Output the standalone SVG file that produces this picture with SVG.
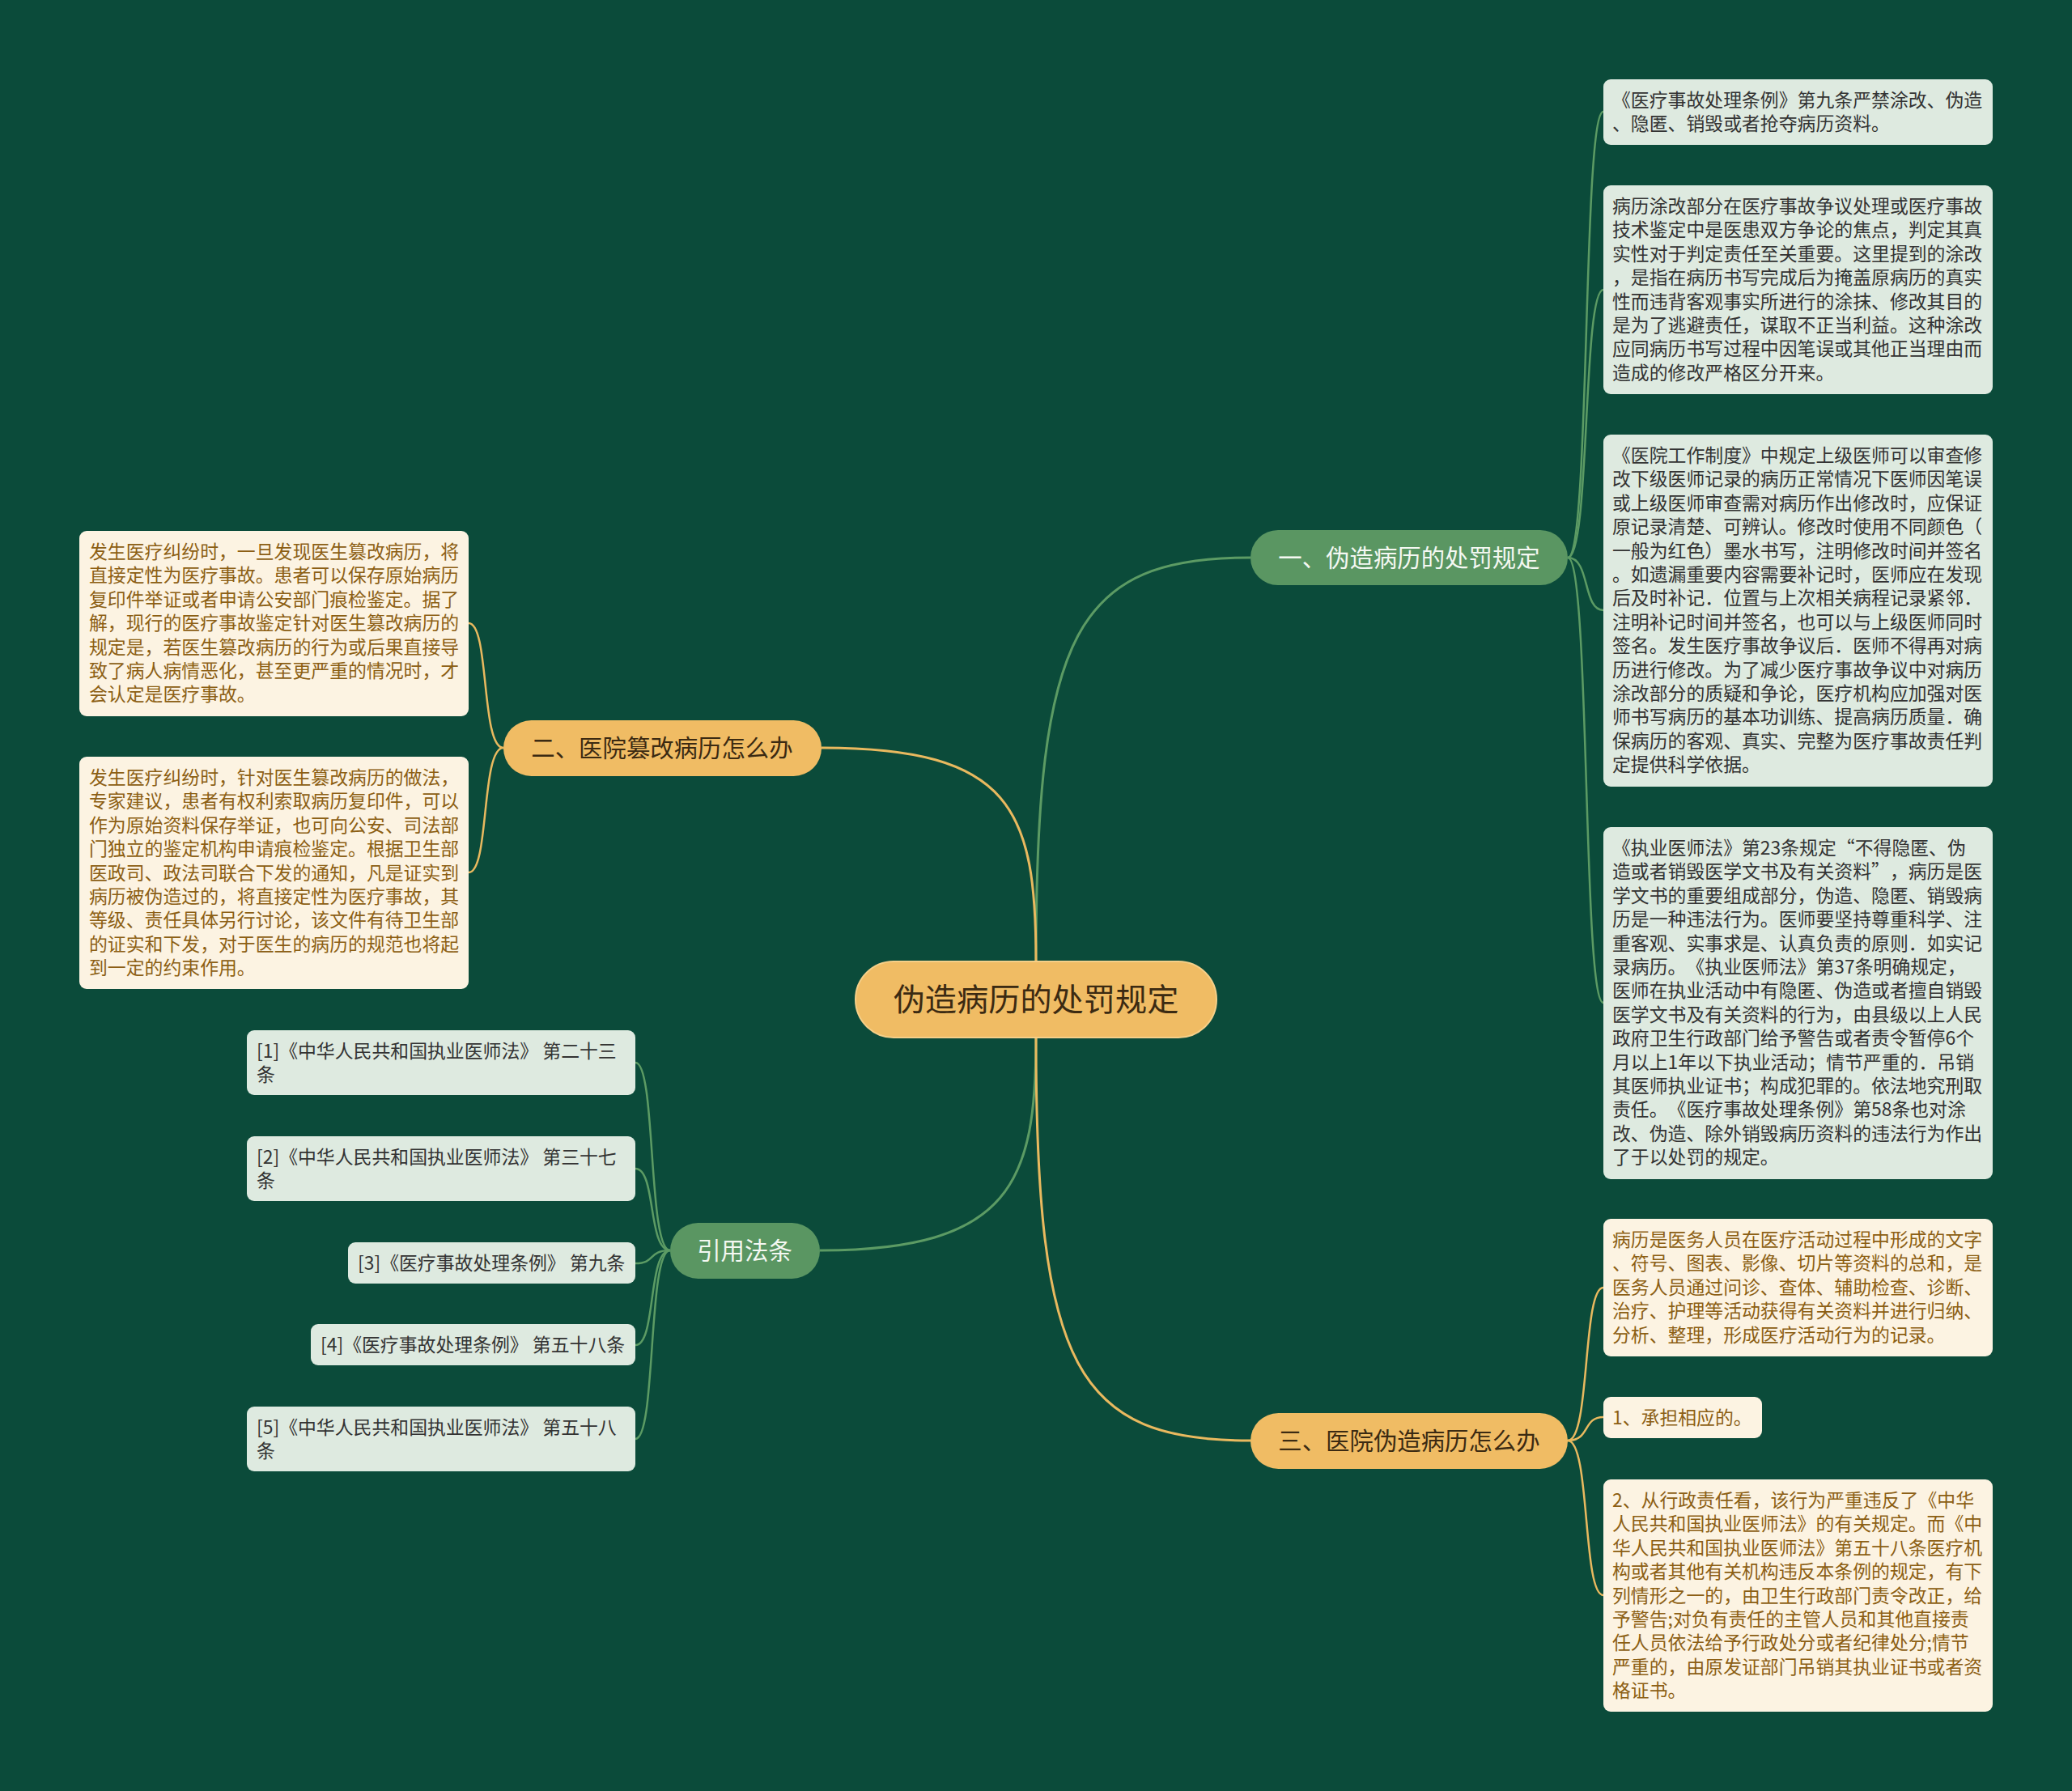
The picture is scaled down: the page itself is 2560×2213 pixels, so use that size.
<svg xmlns="http://www.w3.org/2000/svg" width="2560" height="2213" viewBox="0 0 2560 2213">
<style>
text{font-family:"Noto Sans CJK SC","Noto Sans",sans-serif;text-spacing-trim:space-all}
.bg{fill:#0b4b3a}
.cg{fill:none;stroke:#5c9b64;stroke-width:3}
.co{fill:none;stroke:#e9b95f;stroke-width:3}
.lg{fill:none;stroke:#5c9b64;stroke-width:2.5}
.lo{fill:none;stroke:#e9b95f;stroke-width:2.5}
.root rect{fill:#f0bc64;stroke:#f5cf88;stroke-width:2}
.root text{font-size:39.2px;fill:#3b2a12;text-anchor:middle}
.bo rect{fill:#f0bc64}
.bo text{font-size:29.4px;fill:#3b2a12;text-anchor:middle}
.bgn rect{fill:#5a9662}
.bgn text{font-size:29.4px;fill:#f4f8f2;text-anchor:middle}
.lfg rect{fill:#deeae0}
.lfg text{font-size:22.86px;fill:#333333}
.lfo rect{fill:#fcf3e2}
.lfo text{font-size:22.86px;fill:#8c5f14}
</style>
<rect class="bg" x="0" y="0" width="2560" height="2213"/>

<g id="connectors">
<path class="cg" d="M1280 1188 C1280 780 1330 689 1545 689"/>
<path class="co" d="M1280 1188 C1280 1000 1250 924 1015 924"/>
<path class="cg" d="M1280 1282 C1280 1460 1250 1545 1013 1545"/>
<path class="co" d="M1280 1282 C1280 1690 1330 1780 1545 1780"/>
<path class="lg" d="M1937 689 C1965 689 1955 138 1981 138"/>
<path class="lg" d="M1937 689 C1965 689 1955 358 1981 358"/>
<path class="lg" d="M1937 689 C1965 689 1955 754 1981 754"/>
<path class="lg" d="M1937 689 C1965 689 1955 1239 1981 1239"/>
<path class="lo" d="M622 924 C594 924 605 770 579 770"/>
<path class="lo" d="M622 924 C594 924 605 1078 579 1078"/>
<path class="lg" d="M828 1545 C800 1545 811 1313 785 1313"/>
<path class="lg" d="M828 1545 C800 1545 811 1444 785 1444"/>
<path class="lg" d="M828 1545 C800 1545 811 1561 785 1561"/>
<path class="lg" d="M828 1545 C800 1545 811 1662 785 1662"/>
<path class="lg" d="M828 1545 C800 1545 811 1778 785 1778"/>
<path class="lo" d="M1937 1780 C1965 1780 1955 1591 1981 1591"/>
<path class="lo" d="M1937 1780 C1965 1780 1955 1751 1981 1751"/>
<path class="lo" d="M1937 1780 C1965 1780 1955 1971 1981 1971"/>
</g>

<g id="root" class="root">
<rect x="1057" y="1188" width="446" height="94" rx="47"/>
<text x="1280" y="1249">伪造病历的处罚规定</text>
</g>

<g id="b1" class="bgn">
<rect x="1545" y="655" width="392" height="68" rx="34"/>
<text x="1741" y="700">一、伪造病历的处罚规定</text>
</g>
<g id="b2" class="bo">
<rect x="622" y="890" width="393" height="69" rx="34.5"/>
<text x="818" y="935">二、医院篡改病历怎么办</text>
</g>
<g id="b4" class="bgn">
<rect x="828" y="1511" width="185" height="69" rx="34.5"/>
<text x="920" y="1556">引用法条</text>
</g>
<g id="b3" class="bo">
<rect x="1545" y="1746" width="392" height="69" rx="34.5"/>
<text x="1741" y="1791">三、医院伪造病历怎么办</text>
</g>

<g id="r1" class="lfg">
<rect x="1981" y="98" width="481" height="81" rx="9"/>
<text x="1992"><tspan x="1992" y="132">《医疗事故处理条例》第九条严禁涂改、伪造</tspan><tspan x="1992" y="161.4">、隐匿、销毁或者抢夺病历资料。</tspan></text>
</g>
<g id="r2" class="lfg">
<rect x="1981" y="229" width="481" height="258" rx="9"/>
<text><tspan x="1992" y="263">病历涂改部分在医疗事故争议处理或医疗事故</tspan><tspan x="1992" y="292.4">技术鉴定中是医患双方争论的焦点，判定其真</tspan><tspan x="1992" y="321.8">实性对于判定责任至关重要。这里提到的涂改</tspan><tspan x="1992" y="351.2">，是指在病历书写完成后为掩盖原病历的真实</tspan><tspan x="1992" y="380.6">性而违背客观事实所进行的涂抹、修改其目的</tspan><tspan x="1992" y="410">是为了逃避责任，谋取不正当利益。这种涂改</tspan><tspan x="1992" y="439.4">应同病历书写过程中因笔误或其他正当理由而</tspan><tspan x="1992" y="468.8">造成的修改严格区分开来。</tspan></text>
</g>
<g id="r3" class="lfg">
<rect x="1981" y="537" width="481" height="435" rx="9"/>
<text><tspan x="1992" y="571">《医院工作制度》中规定上级医师可以审查修</tspan><tspan x="1992" y="600.4">改下级医师记录的病历正常情况下医师因笔误</tspan><tspan x="1992" y="629.8">或上级医师审查需对病历作出修改时，应保证</tspan><tspan x="1992" y="659.2">原记录清楚、可辨认。修改时使用不同颜色（</tspan><tspan x="1992" y="688.6">一般为红色）墨水书写，注明修改时间并签名</tspan><tspan x="1992" y="718">。如遗漏重要内容需要补记时，医师应在发现</tspan><tspan x="1992" y="747.4">后及时补记．位置与上次相关病程记录紧邻．</tspan><tspan x="1992" y="776.8">注明补记时间并签名，也可以与上级医师同时</tspan><tspan x="1992" y="806.2">签名。发生医疗事故争议后．医师不得再对病</tspan><tspan x="1992" y="835.6">历进行修改。为了减少医疗事故争议中对病历</tspan><tspan x="1992" y="865">涂改部分的质疑和争论，医疗机构应加强对医</tspan><tspan x="1992" y="894.4">师书写病历的基本功训练、提高病历质量．确</tspan><tspan x="1992" y="923.8">保病历的客观、真实、完整为医疗事故责任判</tspan><tspan x="1992" y="953.2">定提供科学依据。</tspan></text>
</g>
<g id="r4" class="lfg">
<rect x="1981" y="1022" width="481" height="435" rx="9"/>
<text><tspan x="1992" y="1056">《执业医师法》第23条规定“不得隐匿、伪</tspan><tspan x="1992" y="1085.4">造或者销毁医学文书及有关资料”，病历是医</tspan><tspan x="1992" y="1114.8">学文书的重要组成部分，伪造、隐匿、销毁病</tspan><tspan x="1992" y="1144.2">历是一种违法行为。医师要坚持尊重科学、注</tspan><tspan x="1992" y="1173.6">重客观、实事求是、认真负责的原则．如实记</tspan><tspan x="1992" y="1203">录病历。《执业医师法》第37条明确规定，</tspan><tspan x="1992" y="1232.4">医师在执业活动中有隐匿、伪造或者擅自销毁</tspan><tspan x="1992" y="1261.8">医学文书及有关资料的行为，由县级以上人民</tspan><tspan x="1992" y="1291.2">政府卫生行政部门给予警告或者责令暂停6个</tspan><tspan x="1992" y="1320.6">月以上1年以下执业活动；情节严重的．吊销</tspan><tspan x="1992" y="1350">其医师执业证书；构成犯罪的。依法地究刑取</tspan><tspan x="1992" y="1379.4">责任。《医疗事故处理条例》第58条也对涂</tspan><tspan x="1992" y="1408.8">改、伪造、除外销毁病历资料的违法行为作出</tspan><tspan x="1992" y="1438.2">了于以处罚的规定。</tspan></text>
</g>

<g id="r5" class="lfo">
<rect x="1981" y="1506" width="481" height="170" rx="9"/>
<text><tspan x="1992" y="1540">病历是医务人员在医疗活动过程中形成的文字</tspan><tspan x="1992" y="1569.4">、符号、图表、影像、切片等资料的总和，是</tspan><tspan x="1992" y="1598.8">医务人员通过问诊、查体、辅助检查、诊断、</tspan><tspan x="1992" y="1628.2">治疗、护理等活动获得有关资料并进行归纳、</tspan><tspan x="1992" y="1657.6">分析、整理，形成医疗活动行为的记录。</tspan></text>
</g>
<g id="r6" class="lfo">
<rect x="1981" y="1726" width="196" height="51" rx="9"/>
<text x="1992" y="1760">1、承担相应的。</text>
</g>
<g id="r7" class="lfo">
<rect x="1981" y="1828" width="481" height="287" rx="9"/>
<text><tspan x="1992" y="1862">2、从行政责任看，该行为严重违反了《中华</tspan><tspan x="1992" y="1891.4">人民共和国执业医师法》的有关规定。而《中</tspan><tspan x="1992" y="1920.8">华人民共和国执业医师法》第五十八条医疗机</tspan><tspan x="1992" y="1950.2">构或者其他有关机构违反本条例的规定，有下</tspan><tspan x="1992" y="1979.6">列情形之一的，由卫生行政部门责令改正，给</tspan><tspan x="1992" y="2009">予警告;对负有责任的主管人员和其他直接责</tspan><tspan x="1992" y="2038.4">任人员依法给予行政处分或者纪律处分;情节</tspan><tspan x="1992" y="2067.8">严重的，由原发证部门吊销其执业证书或者资</tspan><tspan x="1992" y="2097.2">格证书。</tspan></text>
</g>

<g id="l1" class="lfo">
<rect x="98" y="656" width="481" height="229" rx="9"/>
<text><tspan x="110" y="690">发生医疗纠纷时，一旦发现医生篡改病历，将</tspan><tspan x="110" y="719.4">直接定性为医疗事故。患者可以保存原始病历</tspan><tspan x="110" y="748.8">复印件举证或者申请公安部门痕检鉴定。据了</tspan><tspan x="110" y="778.2">解，现行的医疗事故鉴定针对医生篡改病历的</tspan><tspan x="110" y="807.6">规定是，若医生篡改病历的行为或后果直接导</tspan><tspan x="110" y="837">致了病人病情恶化，甚至更严重的情况时，才</tspan><tspan x="110" y="866.4">会认定是医疗事故。</tspan></text>
</g>
<g id="l2" class="lfo">
<rect x="98" y="935" width="481" height="287" rx="9"/>
<text><tspan x="110" y="969">发生医疗纠纷时，针对医生篡改病历的做法，</tspan><tspan x="110" y="998.4">专家建议，患者有权利索取病历复印件，可以</tspan><tspan x="110" y="1027.8">作为原始资料保存举证，也可向公安、司法部</tspan><tspan x="110" y="1057.2">门独立的鉴定机构申请痕检鉴定。根据卫生部</tspan><tspan x="110" y="1086.6">医政司、政法司联合下发的通知，凡是证实到</tspan><tspan x="110" y="1116">病历被伪造过的，将直接定性为医疗事故，其</tspan><tspan x="110" y="1145.4">等级、责任具体另行讨论，该文件有待卫生部</tspan><tspan x="110" y="1174.8">的证实和下发，对于医生的病历的规范也将起</tspan><tspan x="110" y="1204.2">到一定的约束作用。</tspan></text>
</g>

<g id="c1" class="lfg">
<rect x="305" y="1273" width="480" height="80" rx="9"/>
<text><tspan x="317" y="1307">[1]《中华人民共和国执业医师法》 第二十三</tspan><tspan x="317" y="1336.4">条</tspan></text>
</g>
<g id="c2" class="lfg">
<rect x="305" y="1404" width="480" height="80" rx="9"/>
<text><tspan x="317" y="1438">[2]《中华人民共和国执业医师法》 第三十七</tspan><tspan x="317" y="1467.4">条</tspan></text>
</g>
<g id="c3" class="lfg">
<rect x="430" y="1535" width="355" height="51" rx="9"/>
<text x="442" y="1569">[3]《医疗事故处理条例》 第九条</text>
</g>
<g id="c4" class="lfg">
<rect x="384" y="1636" width="401" height="51" rx="9"/>
<text x="396" y="1670">[4]《医疗事故处理条例》 第五十八条</text>
</g>
<g id="c5" class="lfg">
<rect x="305" y="1738" width="480" height="80" rx="9"/>
<text><tspan x="317" y="1772">[5]《中华人民共和国执业医师法》 第五十八</tspan><tspan x="317" y="1801.4">条</tspan></text>
</g>
</svg>
